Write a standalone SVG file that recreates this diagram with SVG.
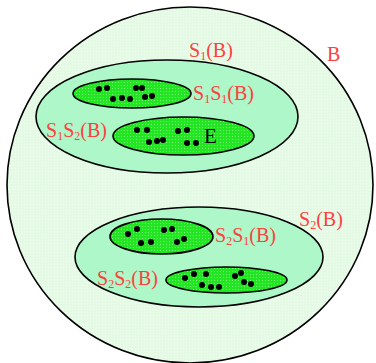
<svg xmlns="http://www.w3.org/2000/svg" width="376" height="363" viewBox="0 0 376 363">
<defs>
<pattern id="pOuter" width="3" height="3" patternUnits="userSpaceOnUse">
<rect width="3" height="3" fill="#e4fae4"/>
<rect width="1" height="1" fill="#f2fdf2"/>
</pattern>
<pattern id="pInner" width="3" height="3" patternUnits="userSpaceOnUse">
<rect width="3" height="3" fill="#22e622"/>
<rect x="1" y="1" width="1" height="1" fill="#7cf57c"/>
</pattern>
<style>
.l{fill:none;stroke:#000;stroke-width:1.6}
.mid{fill:#aef7c8;stroke:#000;stroke-width:1.6}
.in{fill:url(#pInner);stroke:#000;stroke-width:1.6}
.t{font-family:"Liberation Serif",serif;font-size:20px;fill:#ff4040}
.s{font-size:12px}
circle.d{fill:#000}
</style>
</defs>
<g id="B">
<ellipse cx="190" cy="185" rx="183" ry="178" fill="url(#pOuter)" stroke="#000" stroke-width="1.6"/>
<text class="t" x="327" y="61">B</text>
</g>
<g id="S1B">
<ellipse class="mid" cx="167" cy="116.5" rx="131" ry="56.5"/>
<text class="t" x="189" y="57">S<tspan class="s" dy="3">1</tspan><tspan dy="-3">(B)</tspan></text>
</g>
<g id="S1S1B">
<ellipse class="in" cx="132" cy="93.5" rx="59" ry="14.5"/>
<g>
<circle class="d" cx="99" cy="89" r="3"/><circle class="d" cx="107" cy="88" r="3"/>
<circle class="d" cx="113" cy="99" r="3"/><circle class="d" cx="122" cy="98" r="3"/>
<circle class="d" cx="130" cy="99" r="3"/><circle class="d" cx="136" cy="88" r="3"/>
<circle class="d" cx="142" cy="88" r="3"/><circle class="d" cx="145" cy="97" r="3"/>
<circle class="d" cx="152" cy="96" r="3"/>
</g>
<text class="t" x="193" y="100">S<tspan class="s" dy="3">1</tspan><tspan dy="-3">S</tspan><tspan class="s" dy="3">1</tspan><tspan dy="-3">(B)</tspan></text>
</g>
<g id="S1S2B">
<ellipse class="in" cx="183.5" cy="136" rx="70.5" ry="19"/>
<g>
<circle class="d" cx="137" cy="130" r="3"/><circle class="d" cx="147" cy="130" r="3"/>
<circle class="d" cx="149" cy="142" r="3"/><circle class="d" cx="157" cy="141" r="3"/>
<circle class="d" cx="163" cy="140" r="3"/><circle class="d" cx="178" cy="131" r="3"/>
<circle class="d" cx="187" cy="130" r="3"/><circle class="d" cx="187" cy="143" r="3"/>
<circle class="d" cx="196" cy="143" r="3"/>
</g>
<text class="t" x="46" y="137">S<tspan class="s" dy="3">1</tspan><tspan dy="-3">S</tspan><tspan class="s" dy="3">2</tspan><tspan dy="-3">(B)</tspan></text>
<text x="204" y="143" style="font-family:'Liberation Serif',serif;font-size:21px;fill:#000">E</text>
</g>
<g id="S2B">
<ellipse class="mid" cx="199" cy="257" rx="124" ry="50"/>
<text class="t" x="299" y="226">S<tspan class="s" dy="3">2</tspan><tspan dy="-3">(B)</tspan></text>
</g>
<g id="S2S1B">
<ellipse class="in" cx="161.5" cy="236.5" rx="51.5" ry="17.5"/>
<g>
<circle class="d" cx="128" cy="234" r="3"/><circle class="d" cx="137" cy="229" r="3"/>
<circle class="d" cx="141" cy="243" r="3"/><circle class="d" cx="151" cy="242" r="3"/>
<circle class="d" cx="164" cy="230" r="3"/><circle class="d" cx="172" cy="229" r="3"/>
<circle class="d" cx="177" cy="242" r="3"/><circle class="d" cx="184" cy="239" r="3"/>
</g>
<text class="t" x="215" y="242">S<tspan class="s" dy="3">2</tspan><tspan dy="-3">S</tspan><tspan class="s" dy="3">1</tspan><tspan dy="-3">(B)</tspan></text>
</g>
<g id="S2S2B">
<ellipse class="in" cx="226.5" cy="280" rx="60.5" ry="13"/>
<g>
<circle class="d" cx="185" cy="278" r="3"/><circle class="d" cx="194" cy="274" r="3"/>
<circle class="d" cx="206" cy="274" r="3"/><circle class="d" cx="202" cy="285" r="3"/>
<circle class="d" cx="211" cy="287" r="3"/><circle class="d" cx="219" cy="287" r="3"/>
<circle class="d" cx="235" cy="276" r="3"/><circle class="d" cx="241" cy="273" r="3"/>
<circle class="d" cx="244" cy="282" r="3"/><circle class="d" cx="251" cy="284" r="3"/>
</g>
<text class="t" x="97" y="285">S<tspan class="s" dy="3">2</tspan><tspan dy="-3">S</tspan><tspan class="s" dy="3">2</tspan><tspan dy="-3">(B)</tspan></text>
</g>
<g id="connectors"/>
</svg>
